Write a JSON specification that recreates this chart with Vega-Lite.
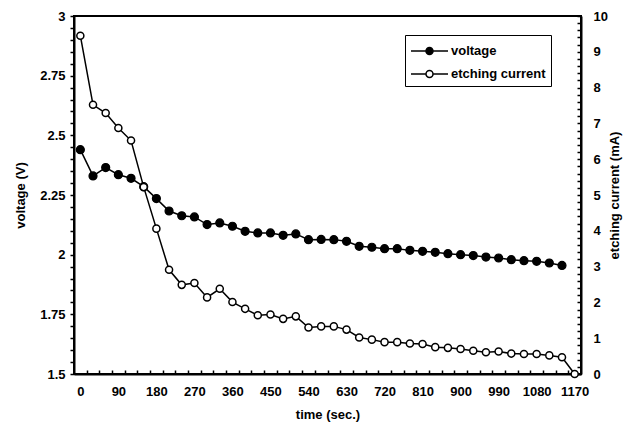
{
  "$schema": "https://vega.github.io/schema/vega-lite/v6.json",
  "width": 507,
  "height": 358,
  "autosize": {"type": "pad"},
  "padding": {"left": 14, "top": 10, "right": 5, "bottom": 5},
  "background": "white",
  "config": {
    "view": {"stroke": "black", "strokeWidth": 2},
    "font": "Liberation Sans",
    "axis": {
      "grid": false,
      "domainColor": "black",
      "domainWidth": 2,
      "tickColor": "black",
      "tickWidth": 1.5,
      "labelFont": "Liberation Sans",
      "labelFontWeight": "bold",
      "labelFontSize": 13,
      "labelColor": "black",
      "titleFont": "Liberation Sans",
      "titleFontWeight": "bold",
      "titleFontSize": 13,
      "titleColor": "black",
      "labelOverlap": false
    }
  },
  "datasets": {
    "voltage": [
      {"t": 0, "series": "voltage", "value": 2.44},
      {"t": 30, "series": "voltage", "value": 2.33},
      {"t": 60, "series": "voltage", "value": 2.365},
      {"t": 90, "series": "voltage", "value": 2.335},
      {"t": 120, "series": "voltage", "value": 2.32},
      {"t": 150, "series": "voltage", "value": 2.285},
      {"t": 180, "series": "voltage", "value": 2.235},
      {"t": 210, "series": "voltage", "value": 2.183},
      {"t": 240, "series": "voltage", "value": 2.163},
      {"t": 270, "series": "voltage", "value": 2.158},
      {"t": 300, "series": "voltage", "value": 2.126},
      {"t": 330, "series": "voltage", "value": 2.133},
      {"t": 360, "series": "voltage", "value": 2.119},
      {"t": 390, "series": "voltage", "value": 2.098},
      {"t": 420, "series": "voltage", "value": 2.091},
      {"t": 450, "series": "voltage", "value": 2.091},
      {"t": 480, "series": "voltage", "value": 2.081},
      {"t": 510, "series": "voltage", "value": 2.087},
      {"t": 540, "series": "voltage", "value": 2.063},
      {"t": 570, "series": "voltage", "value": 2.064},
      {"t": 600, "series": "voltage", "value": 2.063},
      {"t": 630, "series": "voltage", "value": 2.056},
      {"t": 660, "series": "voltage", "value": 2.035},
      {"t": 690, "series": "voltage", "value": 2.031},
      {"t": 720, "series": "voltage", "value": 2.025},
      {"t": 750, "series": "voltage", "value": 2.025},
      {"t": 780, "series": "voltage", "value": 2.018},
      {"t": 810, "series": "voltage", "value": 2.014},
      {"t": 840, "series": "voltage", "value": 2.01},
      {"t": 870, "series": "voltage", "value": 2.004},
      {"t": 900, "series": "voltage", "value": 2.0},
      {"t": 930, "series": "voltage", "value": 1.996},
      {"t": 960, "series": "voltage", "value": 1.99},
      {"t": 990, "series": "voltage", "value": 1.986},
      {"t": 1020, "series": "voltage", "value": 1.979},
      {"t": 1050, "series": "voltage", "value": 1.975},
      {"t": 1080, "series": "voltage", "value": 1.972},
      {"t": 1110, "series": "voltage", "value": 1.965},
      {"t": 1140, "series": "voltage", "value": 1.955}
    ],
    "current": [
      {"t": 0, "series": "etching current", "value": 9.45},
      {"t": 30, "series": "etching current", "value": 7.52},
      {"t": 60, "series": "etching current", "value": 7.29},
      {"t": 90, "series": "etching current", "value": 6.87},
      {"t": 120, "series": "etching current", "value": 6.52},
      {"t": 150, "series": "etching current", "value": 5.22},
      {"t": 180, "series": "etching current", "value": 4.06},
      {"t": 210, "series": "etching current", "value": 2.91},
      {"t": 240, "series": "etching current", "value": 2.49},
      {"t": 270, "series": "etching current", "value": 2.54},
      {"t": 300, "series": "etching current", "value": 2.14},
      {"t": 330, "series": "etching current", "value": 2.38},
      {"t": 360, "series": "etching current", "value": 2.01},
      {"t": 390, "series": "etching current", "value": 1.82},
      {"t": 420, "series": "etching current", "value": 1.64},
      {"t": 450, "series": "etching current", "value": 1.66},
      {"t": 480, "series": "etching current", "value": 1.54},
      {"t": 510, "series": "etching current", "value": 1.61},
      {"t": 540, "series": "etching current", "value": 1.3},
      {"t": 570, "series": "etching current", "value": 1.33},
      {"t": 600, "series": "etching current", "value": 1.33},
      {"t": 630, "series": "etching current", "value": 1.24},
      {"t": 660, "series": "etching current", "value": 1.02},
      {"t": 690, "series": "etching current", "value": 0.96},
      {"t": 720, "series": "etching current", "value": 0.89},
      {"t": 750, "series": "etching current", "value": 0.89},
      {"t": 780, "series": "etching current", "value": 0.85},
      {"t": 810, "series": "etching current", "value": 0.84},
      {"t": 840, "series": "etching current", "value": 0.75},
      {"t": 870, "series": "etching current", "value": 0.73},
      {"t": 900, "series": "etching current", "value": 0.7},
      {"t": 930, "series": "etching current", "value": 0.65},
      {"t": 960, "series": "etching current", "value": 0.61},
      {"t": 990, "series": "etching current", "value": 0.63},
      {"t": 1020, "series": "etching current", "value": 0.57},
      {"t": 1050, "series": "etching current", "value": 0.56},
      {"t": 1080, "series": "etching current", "value": 0.56},
      {"t": 1110, "series": "etching current", "value": 0.52},
      {"t": 1140, "series": "etching current", "value": 0.47},
      {"t": 1170, "series": "etching current", "value": 0.0}
    ]
  },
  "layer": [
    {
      "data": {"name": "voltage"},
      "mark": {"type": "line", "color": "black", "strokeWidth": 1.5},
      "encoding": {
        "x": {
          "field": "t", "type": "quantitative",
          "scale": {"domain": [-15, 1185], "nice": false, "zero": false},
          "axis": {
            "title": "time (sec.)",
            "values": [0, 90, 180, 270, 360, 450, 540, 630, 720, 810, 900, 990, 1080, 1170],
            "format": "d",
            "tickSize": 0,
            "labelPadding": 11,
            "titlePadding": 10
          }
        },
        "y": {
          "field": "value", "type": "quantitative",
          "scale": {"domain": [1.5, 3], "nice": false, "zero": false},
          "axis": {
            "title": "voltage (V)",
            "values": [1.5, 1.55, 1.6, 1.65, 1.7, 1.75, 1.8, 1.85, 1.9, 1.95, 2, 2.05, 2.1, 2.15, 2.2, 2.25, 2.3, 2.35, 2.4, 2.45, 2.5, 2.55, 2.6, 2.65, 2.7, 2.75, 2.8, 2.85, 2.9, 2.95, 3],
            "labelExpr": "abs(datum.value * 4 - round(datum.value * 4)) < 0.001 ? format(datum.value, '~g') : ''",
            "tickSize": 4,
            "labelPadding": 5,
            "titlePadding": 12
          }
        }
      }
    },
    {
      "data": {"name": "voltage"},
      "mark": {"type": "point", "shape": "circle", "filled": true, "size": 64, "stroke": "black", "strokeWidth": 1.2, "opacity": 1},
      "encoding": {
        "x": {"field": "t", "type": "quantitative", "scale": {"domain": [-15, 1185], "nice": false, "zero": false}, "axis": null},
        "y": {"field": "value", "type": "quantitative", "scale": {"domain": [1.5, 3], "nice": false, "zero": false}, "axis": null},
        "fill": {
          "field": "series", "type": "nominal",
          "scale": {"domain": ["voltage", "etching current"], "range": ["black", "white"]},
          "legend": {
            "title": null,
            "orient": "none",
            "legendX": 331,
            "legendY": 19,
            "strokeColor": "black",
            "fillColor": "white",
            "padding": 5,
            "symbolType": "M-1,0L0.5,0M1.2,0L2.7,0M0.5,0A0.35,0.35,0,1,1,1.2,0A0.35,0.35,0,1,1,0.5,0Z",
            "symbolSize": 400,
            "symbolStrokeColor": "black",
            "symbolStrokeWidth": 1.5,
            "labelFont": "Liberation Sans",
            "labelFontSize": 13,
            "labelFontWeight": "bold",
            "labelColor": "black",
            "labelOffset": 19,
            "rowPadding": 5
          }
        }
      }
    },
    {
      "data": {"name": "current"},
      "mark": {"type": "line", "color": "black", "strokeWidth": 1.5},
      "encoding": {
        "x": {
          "field": "t", "type": "quantitative",
          "scale": {"domain": [-15, 1185], "nice": false, "zero": false},
          "axis": {
            "title": null,
            "orient": "bottom",
            "values": [15, 45, 75, 105, 135, 165, 195, 225, 255, 285, 315, 345, 375, 405, 435, 465, 495, 525, 555, 585, 615, 645, 675, 705, 735, 765, 795, 825, 855, 885, 915, 945, 975, 1005, 1035, 1065, 1095, 1125, 1155],
            "labels": false,
            "tickSize": -4,
            "domain": false
          }
        },
        "y": {
          "field": "value", "type": "quantitative",
          "scale": {"domain": [0, 10], "nice": false, "zero": false},
          "axis": {
            "title": "etching current (mA)",
            "orient": "right",
            "titleAngle": 270,
            "values": [0, 0.2, 0.4, 0.6, 0.8, 1, 1.2, 1.4, 1.6, 1.8, 2, 2.2, 2.4, 2.6, 2.8, 3, 3.2, 3.4, 3.6, 3.8, 4, 4.2, 4.4, 4.6, 4.8, 5, 5.2, 5.4, 5.6, 5.8, 6, 6.2, 6.4, 6.6, 6.8, 7, 7.2, 7.4, 7.6, 7.8, 8, 8.2, 8.4, 8.6, 8.8, 9, 9.2, 9.4, 9.6, 9.8, 10],
            "labelExpr": "abs(datum.value - round(datum.value)) < 0.001 ? format(datum.value, 'd') : ''",
            "tickSize": -4,
            "labelPadding": 16,
            "titlePadding": 14
          }
        }
      }
    },
    {
      "data": {"name": "current"},
      "mark": {"type": "point", "shape": "circle", "filled": true, "size": 50, "stroke": "black", "strokeWidth": 1.5, "opacity": 1},
      "encoding": {
        "x": {"field": "t", "type": "quantitative", "scale": {"domain": [-15, 1185], "nice": false, "zero": false}, "axis": null},
        "y": {"field": "value", "type": "quantitative", "scale": {"domain": [0, 10], "nice": false, "zero": false}, "axis": null},
        "fill": {"field": "series", "type": "nominal"}
      }
    }
  ],
  "resolve": {"scale": {"y": "independent"}, "axis": {"x": "independent", "y": "independent"}}
}
